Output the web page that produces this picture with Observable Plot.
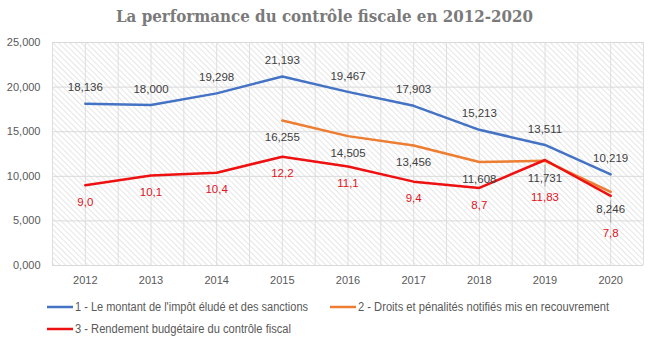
<!DOCTYPE html>
<html>
<head>
<meta charset="utf-8">
<script src="https://cdn.jsdelivr.net/npm/d3@7"></script>
<script src="https://cdn.jsdelivr.net/npm/@observablehq/plot@0.6"></script>
<style>
  html, body { margin: 0; padding: 0; background: #fff; }
  #wrap { width: 654px; height: 347px; overflow: hidden; }
  svg { display: block; }
</style>
</head>
<body>
<div id="wrap"></div>
<script>
// ---- data ----
const years = [2012, 2013, 2014, 2015, 2016, 2017, 2018, 2019, 2020];
const series1 = [18136, 18000, 19298, 21193, 19467, 17903, 15213, 13511, 10219];
const years2 = [2015, 2016, 2017, 2018, 2019, 2020];
const series2 = [16255, 14505, 13456, 11608, 11731, 8246];
const series3 = [9.0, 10.1, 10.4, 12.2, 11.1, 9.4, 8.7, 11.83, 7.8];
const series3Labels = ["9,0", "10,1", "10,4", "12,2", "11,1", "9,4", "8,7", "11,83", "7,8"];
const yTicks = [0, 5000, 10000, 15000, 20000, 25000];
const seriesNames = [
  "1 - Le montant de l'impôt éludé et des sanctions",
  "2 - Droits et pénalités notifiés mis en recouvrement",
  "3 - Rendement budgétaire du contrôle fiscal"
];
const title = "La performance du contrôle fiscale en 2012-2020";
const colors = ["#4472c4", "#ed7d31", "#ee1111"];

// ---- tables ----
const d1 = years.map((y, i) => ({year: y, value: series1[i]}));
const d2 = years2.map((y, i) => ({year: y, value: series2[i]}));
const d3s = years.map((y, i) => ({year: y, value: series3[i] * 1000, label: series3Labels[i]}));
const crowded = new Set(years2.filter(y => y >= 2019));
const gridX = years.flatMap(y => [y - 0.5, y]).concat([years[years.length - 1] + 0.5]);

const wrap = document.getElementById("wrap");
const NS = "http://www.w3.org/2000/svg";

// ---- title ----
const tsvg = document.createElementNS(NS, "svg");
tsvg.setAttribute("width", 654); tsvg.setAttribute("height", 36);
const tt = document.createElementNS(NS, "text");
tt.setAttribute("x", 324.5); tt.setAttribute("y", 22);
tt.setAttribute("text-anchor", "middle");
tt.setAttribute("font-family", "'DejaVu Serif Condensed', 'DejaVu Serif', serif");
tt.setAttribute("font-weight", "bold");
tt.setAttribute("font-size", "17");
tt.setAttribute("fill", "#7a7a7a");
tt.setAttribute("textLength", 417);
tt.setAttribute("lengthAdjust", "spacingAndGlyphs");
tt.textContent = title;
tsvg.appendChild(tt);
wrap.appendChild(tsvg);

// ---- chart ----
const chart = Plot.plot({
  width: 654,
  height: 254,
  marginTop: 6,
  marginBottom: 25,
  marginLeft: 52,
  marginRight: 11,
  style: {fontFamily: "'Liberation Sans', Arial, sans-serif", fontSize: "11px", background: "#fff"},
  x: {type: "linear", domain: [2011.5, 2020.5]},
  y: {domain: [0, 25000]},
  marks: [
    Plot.frame({fill: "url(#hatch)", stroke: null}),
    Plot.ruleY(yTicks, {stroke: "#d9d9d9", strokeWidth: 1}),
    Plot.ruleX(gridX, {stroke: "#dedede", strokeWidth: 1}),
    Plot.axisY(yTicks, {tickSize: 0, tickPadding: 12, fontSize: 11, fill: "#595959",
      tickFormat: v => (v / 1000).toFixed(3).replace(".", ","), label: null}),
    Plot.axisX(years, {tickSize: 0, tickPadding: 11, fontSize: 11, fill: "#595959",
      tickFormat: d => String(d), label: null}),
    Plot.line(d1, {x: "year", y: "value", stroke: colors[0], strokeWidth: 2.5}),
    Plot.line(d2, {x: "year", y: "value", stroke: colors[1], strokeWidth: 2.5}),
    Plot.line(d3s, {x: "year", y: "value", stroke: colors[2], strokeWidth: 2.5}),
    Plot.ruleX(d3s.filter(d => crowded.has(d.year)), {x: "year", y1: "value", y2: "value",
      insetTop: 5, insetBottom: -27, stroke: "#a6a6a6", strokeWidth: 1}),
    Plot.text(d1, {x: "year", y: "value", text: d => d3.format(",")(d.value), dy: -16,
      fontSize: 11.5, fill: "#404040"}),
    Plot.text(d2, {x: "year", y: "value", text: d => d3.format(",")(d.value), dy: 17,
      fontSize: 11.5, fill: "#404040"}),
    Plot.text(d3s.filter(d => !crowded.has(d.year)), {x: "year", y: "value", text: "label", dy: 17,
      fontSize: 11.5, fill: "#e0141e"}),
    Plot.text(d3s.filter(d => crowded.has(d.year)), {x: "year", y: "value", text: "label", dy: 37,
      fontSize: 11.5, fill: "#e0141e"})
  ]
});
// hatch pattern
const defs = document.createElementNS(NS, "defs");
defs.innerHTML = `<pattern id="hatch" patternUnits="userSpaceOnUse" width="4" height="4" patternTransform="rotate(-45)">
  <rect width="4" height="4" fill="#ffffff"/>
  <line x1="0" y1="0" x2="0" y2="4" stroke="#d6d6d6" stroke-width="1.2"/>
</pattern>`;
chart.insertBefore(defs, chart.firstChild);
wrap.appendChild(chart);

// ---- legend ----
const lsvg = document.createElementNS(NS, "svg");
lsvg.setAttribute("width", 654); lsvg.setAttribute("height", 57);
const items = [
  {x: 47, y: 17, len: 233},
  {x: 330, y: 17, len: 251},
  {x: 47, y: 39, len: 216}
];
items.forEach((it, i) => {
  const ln = document.createElementNS(NS, "line");
  ln.setAttribute("x1", it.x); ln.setAttribute("x2", it.x + 26);
  ln.setAttribute("y1", it.y); ln.setAttribute("y2", it.y);
  ln.setAttribute("stroke", colors[i]); ln.setAttribute("stroke-width", 2.5);
  lsvg.appendChild(ln);
  const tx = document.createElementNS(NS, "text");
  tx.setAttribute("x", it.x + 28); tx.setAttribute("y", it.y);
  tx.setAttribute("dy", "0.35em");
  tx.setAttribute("font-family", "'Liberation Sans Narrow', 'Liberation Sans', Arial, sans-serif");
  tx.setAttribute("font-size", "12");
  tx.setAttribute("fill", "#595959");
  tx.setAttribute("textLength", it.len);
  tx.setAttribute("lengthAdjust", "spacingAndGlyphs");
  tx.textContent = seriesNames[i];
  lsvg.appendChild(tx);
});
wrap.appendChild(lsvg);
</script>
</body>
</html>
